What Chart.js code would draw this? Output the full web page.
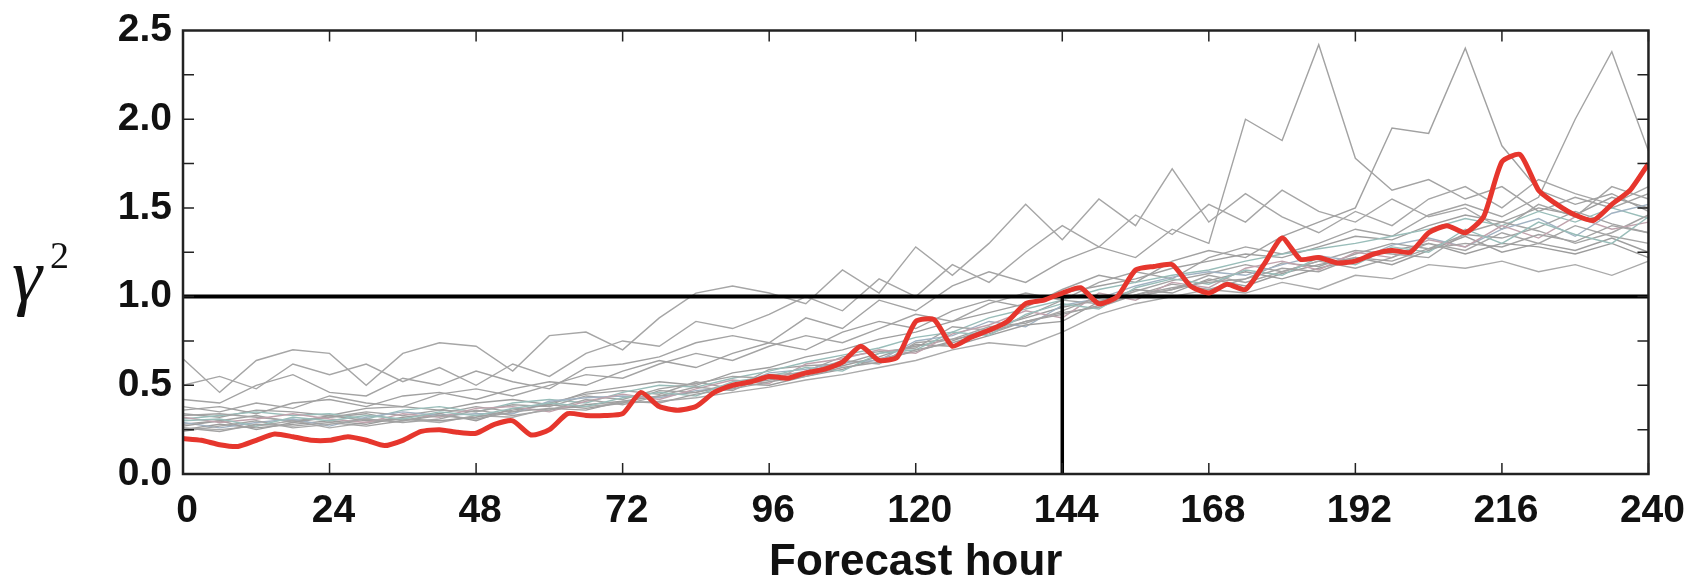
<!DOCTYPE html>
<html>
<head>
<meta charset="utf-8">
<script src="https://cdn.jsdelivr.net/npm/chart.js@4.4.1/dist/chart.umd.min.js"></script>
<style>
  html, body { margin: 0; padding: 0; background: #fff; }
  #wrap { width: 1699px; height: 580px; }
</style>
</head>
<body>
<div id="wrap"><canvas id="chart" width="1699" height="580"></canvas></div>
<script>
// forecast hours (3-hourly for the red mean, 6-hourly for members)
const hours3 = Array.from({ length: 81 }, (_, i) => i * 3);
const hours6 = Array.from({ length: 41 }, (_, i) => i * 6);
const xTickHours = [0, 24, 48, 72, 96, 120, 144, 168, 192, 216, 240];
const yTickValues = [0, 0.5, 1.0, 1.5, 2.0, 2.5];
const yMinorValues = [0.25, 0.5, 0.75, 1.0, 1.25, 1.5, 1.75, 2.0, 2.25];
const refLevel = 1.0;
const crossHour = 144;

// thick red line
const redValues = [
  0.20, 0.19, 0.165, 0.155, 0.19, 0.225, 0.21, 0.19,
  0.19, 0.21, 0.19, 0.16, 0.19, 0.24, 0.25, 0.235,
  0.23, 0.28, 0.30, 0.22, 0.25, 0.34, 0.33, 0.33,
  0.34, 0.46, 0.38, 0.36, 0.38, 0.46, 0.50, 0.52,
  0.55, 0.54, 0.57, 0.59, 0.63, 0.72, 0.64, 0.66,
  0.86, 0.87, 0.72, 0.77, 0.81, 0.86, 0.96, 0.98,
  1.02, 1.05, 0.96, 1.00, 1.15, 1.17, 1.18, 1.06,
  1.02, 1.07, 1.04, 1.18, 1.33, 1.21, 1.22, 1.19,
  1.20, 1.24, 1.26, 1.25, 1.36, 1.40, 1.36, 1.45,
  1.76, 1.80, 1.60, 1.52, 1.46, 1.43, 1.52, 1.60,
  1.75
];

// grey ensemble members
const member01 = [0.26,0.24,0.28,0.27,0.29,0.27,0.30,0.33,0.31,0.35, 0.37,0.36,0.41,0.40,0.45,0.48,0.52,0.55,0.60,0.63, 0.70,0.74,0.80,0.86,0.90,0.95,1.01,1.05,1.08,1.10, 1.16,1.14,1.22,1.20,1.27,1.30,1.28,1.35,1.31,1.40, 1.36];
const member02 = [0.30,0.31,0.27,0.32,0.30,0.33,0.31,0.35,0.33,0.37, 0.40,0.38,0.43,0.46,0.44,0.52,0.55,0.60,0.58,0.68, 0.70,0.80,0.78,0.90,0.96,0.93,1.05,1.10,1.07,1.15, 1.12,1.22,1.18,1.28,1.25,1.38,1.30,1.42,1.35,1.30, 1.45];
const member03 = [0.24,0.27,0.30,0.26,0.28,0.31,0.29,0.31,0.36,0.33, 0.36,0.42,0.39,0.44,0.49,0.47,0.56,0.57,0.64,0.62, 0.74,0.76,0.83,0.85,0.92,1.00,1.00,1.04,1.12,1.08, 1.14,1.20,1.16,1.22,1.30,1.26,1.36,1.30,1.40,1.34, 1.30];
const member04 = [0.32,0.29,0.31,0.34,0.31,0.29,0.34,0.32,0.37,0.38, 0.35,0.41,0.45,0.42,0.48,0.53,0.51,0.62,0.65,0.70, 0.68,0.79,0.84,0.92,0.88,1.02,0.98,1.08,1.05,1.16, 1.20,1.15,1.25,1.22,1.32,1.28,1.40,1.33,1.45,1.38, 1.42];
const member05 = [0.27,0.30,0.25,0.29,0.33,0.30,0.31,0.30,0.32,0.36, 0.39,0.37,0.40,0.47,0.46,0.50,0.53,0.56,0.61,0.66, 0.73,0.72,0.78,0.84,0.86,0.97,1.04,1.02,1.10,1.06, 1.13,1.18,1.22,1.18,1.26,1.34,1.25,1.30,1.26,1.33, 1.25];
const member06 = [0.29,0.26,0.29,0.31,0.27,0.32,0.35,0.33,0.34,0.34, 0.41,0.43,0.44,0.43,0.47,0.49,0.57,0.59,0.63,0.64, 0.75,0.78,0.86,0.83,0.95,0.99,1.06,1.11,1.14,1.12, 1.18,1.23,1.20,1.29,1.33,1.28,1.38,1.44,1.34,1.47, 1.52];
const member07 = [0.33,0.34,0.32,0.30,0.32,0.35,0.33,0.36,0.35,0.39, 0.38,0.44,0.42,0.48,0.51,0.55,0.54,0.58,0.66,0.69, 0.71,0.83,0.81,0.89,0.98,0.96,1.03,1.09,1.13,1.18, 1.14,1.20,1.26,1.24,1.22,1.36,1.42,1.37,1.30,1.36, 1.46];
const member08 = [0.25,0.28,0.26,0.28,0.30,0.28,0.32,0.34,0.30,0.37, 0.36,0.39,0.41,0.44,0.46,0.51,0.50,0.55,0.59,0.65, 0.69,0.75,0.82,0.88,0.94,0.98,1.00,1.04,1.09,1.14, 1.10,1.16,1.21,1.26,1.30,1.24,1.30,1.28,1.24,1.30, 1.22];
const member09 = [0.31,0.33,0.35,0.33,0.34,0.31,0.36,0.38,0.35,0.40, 0.42,0.40,0.46,0.50,0.49,0.54,0.58,0.63,0.67,0.71, 0.77,0.80,0.88,0.93,0.98,1.04,1.08,1.12,1.15,1.20, 1.24,1.27,1.30,1.34,1.38,1.44,1.40,1.48,1.42,1.50, 1.44];
const member10 = [0.28,0.30,0.33,0.29,0.32,0.34,0.30,0.34,0.38,0.35, 0.40,0.45,0.47,0.45,0.52,0.48,0.59,0.61,0.62,0.68, 0.72,0.76,0.79,0.86,0.91,0.94,1.01,1.07,1.04,1.10, 1.19,1.17,1.24,1.30,1.27,1.35,1.33,1.39,1.48,1.41, 1.36];
const member11 = [0.26,0.25,0.27,0.30,0.26,0.29,0.31,0.29,0.33,0.32, 0.37,0.38,0.40,0.41,0.43,0.46,0.49,0.53,0.56,0.60, 0.64,0.70,0.74,0.72,0.80,0.90,0.96,1.00,1.04,1.02, 1.08,1.04,1.12,1.10,1.18,1.16,1.20,1.14,1.18,1.12, 1.20];
const member12 = [0.34,0.32,0.36,0.35,0.33,0.37,0.38,0.36,0.40,0.42, 0.39,0.46,0.49,0.52,0.50,0.57,0.60,0.66,0.70,0.76, 0.80,0.86,0.91,0.96,1.02,1.06,1.10,1.16,1.20,1.24, 1.22,1.28,1.34,1.32,1.40,1.46,1.42,1.50,1.46,1.56, 1.50];
const member13 = [0.65,0.46,0.64,0.70,0.68,0.50,0.68,0.74,0.72,0.58, 0.78,0.80,0.70,0.88,1.02,1.06,1.02,0.96,1.15,1.02, 1.28,1.12,1.30,1.52,1.32,1.55,1.40,1.72,1.42,1.58, 1.45,1.36,1.48,1.40,1.55,1.62,1.50,1.66,1.58,1.52, 1.62];
const member14 = [0.42,0.40,0.50,0.56,0.46,0.44,0.54,0.50,0.58,0.52, 0.48,0.60,0.62,0.66,0.74,0.78,0.74,0.88,0.82,0.98, 0.92,1.06,1.14,1.08,1.20,1.28,1.22,1.38,1.30,2.00, 1.88,2.42,1.78,1.60,1.66,1.55,1.62,1.48,1.56,1.50, 1.58];
const member15 = [0.36,0.38,0.34,0.40,0.42,0.38,0.44,0.46,0.42,0.48, 0.52,0.50,0.58,0.64,0.60,0.68,0.74,0.70,0.80,0.86, 0.82,0.92,0.98,0.94,1.04,1.12,1.08,1.20,1.26,1.22, 1.34,1.42,1.50,1.95,1.92,2.40,1.85,1.60,1.52,1.58, 1.48];
const member16 = [0.38,0.35,0.40,0.37,0.44,0.40,0.38,0.45,0.48,0.44, 0.50,0.56,0.54,0.62,0.68,0.64,0.72,0.78,0.74,0.82, 0.90,0.86,0.96,1.02,0.98,1.08,1.14,1.10,1.22,1.28, 1.24,1.30,1.38,1.34,1.46,1.52,1.45,1.56,2.00,2.38, 1.82];
const member17 = [0.50,0.55,0.48,0.62,0.56,0.62,0.52,0.60,0.50,0.62, 0.55,0.68,0.75,0.72,0.86,0.82,0.90,1.00,0.92,1.10, 1.00,1.18,1.08,1.25,1.40,1.28,1.46,1.35,1.52,1.42, 1.60,1.48,1.42,1.55,1.45,1.50,1.38,1.52,1.45,1.62, 1.55];

const members = [member01, member02, member03, member04, member05, member06, member07, member08, member09,
  member10, member11, member12, member13, member14, member15, member16, member17];
const memberColors = ['#a2a2a2', '#99bdb9', '#a5a5a5', '#c0a3ad', '#9e9e9e', '#a1b2c2', '#a4a4a4', '#9c9c9c', '#99bdb9',
  '#a2a2a2', '#aaaaaa', '#9f9f9f', '#a6a6a6', '#a3a3a3', '#a1a1a1', '#a4a4a4', '#a6a6a6'];

const toPoints = (xs, ys) => xs.map((h, i) => ({ x: h, y: ys[i] }));

const datasets = members.map((vals, i) => ({
  data: toPoints(hours6, vals),
  borderColor: memberColors[i],
  borderWidth: 1.4,
  pointRadius: 0,
  tension: 0,
  order: 3
}));

// reference lines
datasets.push({
  data: [{ x: 0, y: refLevel }, { x: 240, y: refLevel }],
  borderColor: '#000', borderWidth: 4, pointRadius: 0, order: 2
});
datasets.push({
  data: [{ x: crossHour, y: 0 }, { x: crossHour, y: refLevel }],
  borderColor: '#000', borderWidth: 3.5, pointRadius: 0, order: 2
});

datasets.push({
  data: toPoints(hours3, redValues),
  borderColor: '#e6362d',
  borderWidth: 5,
  pointRadius: 0,
  tension: 0.2,
  order: 0
});

// frame, inward ticks and the y label
const framePlugin = {
  id: 'frame',
  beforeDraw(chart) {
    const { ctx } = chart;
    ctx.save();
    ctx.fillStyle = '#fff';
    ctx.fillRect(0, 0, chart.width, chart.height);
    ctx.restore();
  },
  afterDraw(chart) {
    const { ctx, chartArea: a, scales: { x, y } } = chart;
    ctx.save();
    ctx.strokeStyle = '#222';
    ctx.lineWidth = 1.5;
    ctx.beginPath();
    xTickHours.forEach(h => {
      const px = x.getPixelForValue(h);
      ctx.moveTo(px, a.bottom); ctx.lineTo(px, a.bottom - 11);
      ctx.moveTo(px, a.top); ctx.lineTo(px, a.top + 11);
    });
    yMinorValues.forEach(v => {
      const py = y.getPixelForValue(v);
      ctx.moveTo(a.left, py); ctx.lineTo(a.left + 11, py);
      ctx.moveTo(a.right, py); ctx.lineTo(a.right - 11, py);
    });
    ctx.stroke();
    ctx.lineWidth = 2.5;
    ctx.strokeRect(a.left, a.top, a.right - a.left, a.bottom - a.top);

    ctx.fillStyle = '#111';
    ctx.textBaseline = 'alphabetic';
    ctx.font = 'italic 76px "Liberation Serif", "DejaVu Serif", serif';
    ctx.fillText('γ', 12, 301);
    ctx.font = '38px "Liberation Serif", "DejaVu Serif", serif';
    ctx.fillText('2', 50, 268);
    ctx.restore();
  }
};

const tickFont = { family: '"Liberation Sans", Arial, sans-serif', size: 39, weight: 'bold', lineHeight: 1 };

new Chart(document.getElementById('chart').getContext('2d'), {
  type: 'line',
  data: { datasets },
  options: {
    responsive: false,
    animation: false,
    layout: { padding: { top: 24, right: 49, left: 0, bottom: 0 } },
    plugins: { legend: { display: false }, tooltip: { enabled: false } },
    scales: {
      x: {
        type: 'linear',
        min: 0,
        max: 240,
        afterFit: s => { s.height = 106; },
        afterBuildTicks: s => { s.ticks = xTickHours.map(v => ({ value: v })); },
        grid: { display: false, drawTicks: false },
        border: { display: false },
        ticks: { color: '#111', font: tickFont, padding: 18, labelOffset: 4, maxRotation: 0, autoSkip: false },
        title: {
          display: true,
          text: 'Forecast hour',
          color: '#111',
          font: { family: '"Liberation Sans", Arial, sans-serif', size: 44, weight: 'bold', lineHeight: 0.8 },
          padding: 0
        }
      },
      y: {
        min: 0,
        max: 2.5,
        afterFit: s => { s.width = 183; },
        afterBuildTicks: s => { s.ticks = yTickValues.map(v => ({ value: v })); },
        grid: { display: false, drawTicks: false },
        border: { display: false },
        ticks: { color: '#111', font: tickFont, padding: 11, callback: v => v.toFixed(1) }
      }
    }
  },
  plugins: [framePlugin]
});
</script>
</body>
</html>
